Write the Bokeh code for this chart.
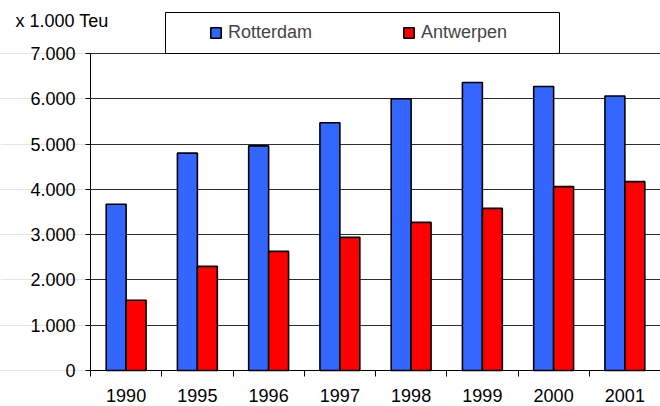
from bokeh.plotting import figure
from bokeh.models import (ColumnDataSource, Range1d, FixedTicker, CustomJSTickFormatter,
                          Legend, LegendItem, Label, BoxAnnotation, LinearAxis, Grid)
from bokeh.transform import dodge
from bokeh.embed import file_html
from bokeh.resources import INLINE

years = ["1990", "1995", "1996", "1997", "1998", "1999", "2000", "2001"]
rotterdam = [3670, 4800, 4960, 5470, 6000, 6360, 6270, 6060]
antwerpen = [1550, 2300, 2630, 2940, 3270, 3580, 4060, 4170]
y_ticks = [0, 1000, 2000, 3000, 4000, 5000, 6000, 7000]
y_tick_labels = ["0", "1.000", "2.000", "3.000", "4.000", "5.000", "6.000", "7.000"]
unit_label = "x 1.000 Teu"
series_names = ["Rotterdam", "Antwerpen"]

FONT = "Liberation Sans"
FS = "18px"

W, H = 660, 406
AXIS_X = 90            # pixel position of the value axis
AXIS_Y = 370           # pixel position of the category axis
TOP_Y = 53             # pixel position of the 7.000 line
n = len(years)
ymax = max(y_ticks)
cat_w = (W - AXIS_X) / n
unit_h = (AXIS_Y - TOP_Y) / ymax   # pixels per unit

src = ColumnDataSource(dict(x=[i + 0.5 for i in range(n)],
                            year=years, rot=rotterdam, ant=antwerpen))

p = figure(width=W, height=H, output_backend="svg", toolbar_location=None,
           x_range=Range1d(-AXIS_X / cat_w, n),
           y_range=Range1d(-(H - AXIS_Y) / unit_h, AXIS_Y / unit_h),
           y_axis_location=None,
           min_border_left=0, min_border_right=0, min_border_top=0, min_border_bottom=0)
p.outline_line_color = None
p.background_fill_color = "white"
p.border_fill_color = "white"

# horizontal grid lines, only over the plot area
ygrid = Grid(dimension=1, ticker=FixedTicker(ticks=y_ticks),
             grid_line_color="black", grid_line_alpha=0.8)
if "cross_bounds" in Grid.properties():
    ygrid.cross_bounds = (0, n)
    p.add_layout(ygrid)
else:
    p.segment(x0=0, x1=n, y0=y_ticks, y1=y_ticks, line_color="black", line_alpha=0.8)

r1 = p.vbar(x=dodge("x", -0.14), top="rot", width=0.28, source=src,
            fill_color="#3366FF", line_color="black", line_width=1.6)
r2 = p.vbar(x=dodge("x", 0.14), top="ant", width=0.28, source=src,
            fill_color="#FF0000", line_color="black", line_width=1.6)

# x axis, fixed at y = 0
xax = p.xaxis[0]
xax.fixed_location = 0
xax.bounds = (0, n)
xax.ticker = FixedTicker(ticks=[i + 0.5 for i in range(n)], minor_ticks=list(range(n + 1)))
xax.formatter = CustomJSTickFormatter(args=dict(labels=years),
                                      code="return labels[Math.floor(tick)]")
xax.major_tick_out = 0
xax.major_tick_in = 0
xax.minor_tick_out = 6
xax.minor_tick_in = 0
xax.major_label_standoff = 12
p.xgrid.grid_line_color = None

# y axis, fixed at x = 0
yax = LinearAxis(fixed_location=0, bounds=(0, ymax), ticker=FixedTicker(ticks=y_ticks))
yax.major_label_overrides = {t: l for t, l in zip(y_ticks, y_tick_labels)}
yax.major_tick_out = 5
yax.major_tick_in = 0
yax.minor_tick_line_color = None
yax.major_label_standoff = 10
p.add_layout(yax, "left")

for ax in (xax, yax):
    ax.axis_line_color = "black"
    ax.major_tick_line_color = "black"
    ax.major_label_text_font = FONT
    ax.major_label_text_font_size = FS
    ax.major_label_text_color = "black"
xax.minor_tick_line_color = "black"

# unit label (screen units, from bottom-left of the frame)
p.add_layout(Label(x=15, y=H - 10, x_units="screen", y_units="screen",
                   text=unit_label, text_baseline="top",
                   text_font=FONT, text_font_size=FS, text_color="black"))

# legend box
p.add_layout(BoxAnnotation(left=165, right=559, bottom=H - TOP_Y, top=H - 12,
                           left_units="screen", right_units="screen",
                           bottom_units="screen", top_units="screen",
                           fill_color="white", fill_alpha=1.0,
                           line_color="black", line_width=1, line_alpha=1.0))

legend = Legend(items=[LegendItem(label=series_names[0], renderers=[r1]),
                       LegendItem(label=series_names[1], renderers=[r2])],
                orientation="horizontal", location=(199, H - TOP_Y),
                label_text_font=FONT, label_text_font_size=FS,
                glyph_width=13, glyph_height=13, label_standoff=6, spacing=4,
                label_width=170, label_height=21, padding=10, margin=0,
                background_fill_alpha=0, border_line_alpha=0)
p.add_layout(legend, "center")

open("out.html", "w").write(file_html(p, INLINE))
